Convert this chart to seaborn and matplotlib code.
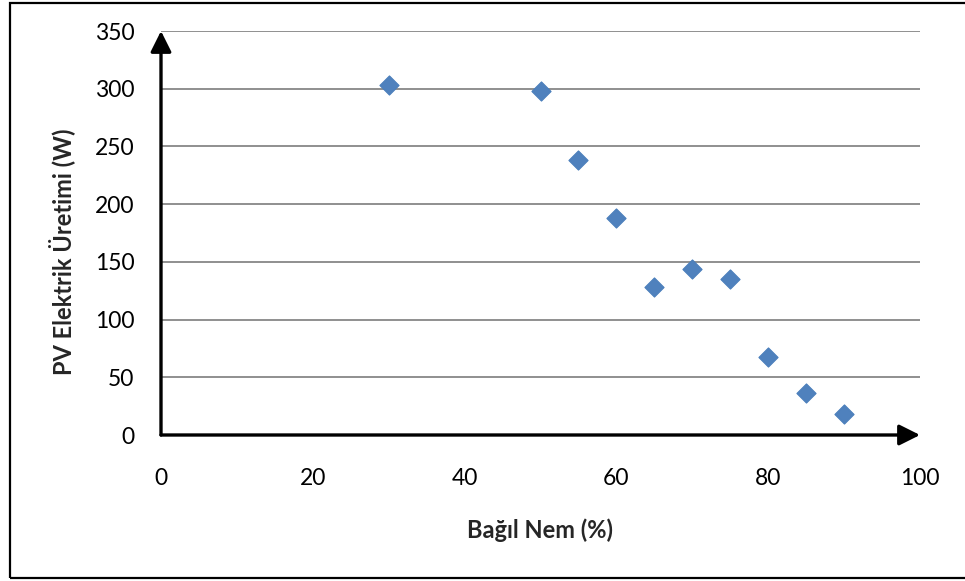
import matplotlib
matplotlib.use("Agg")
import matplotlib.pyplot as plt
from matplotlib.patches import Rectangle
import seaborn as sns
import pandas as pd

# Relative humidity (%) vs. PV electricity output (W)
humidity = [30, 50, 55, 60, 65, 70, 75, 80, 85, 90]
pv_output = [303, 298, 238, 188, 128, 144, 135, 68, 36, 18]
x_ticks = [0, 20, 40, 60, 80, 100]
y_ticks = [0, 50, 100, 150, 200, 250, 300, 350]
x_label = "Bağıl Nem (%)"
y_label = "PV Elektrik Üretimi (W)"

df = pd.DataFrame({"humidity": humidity, "pv": pv_output})

sns.set_theme(style="white")
plt.rcParams["font.family"] = ["Lato", "DejaVu Sans"]

W, H = 965, 581
fig = plt.figure(figsize=(W / 100, H / 100), dpi=100)
fig.patch.set_facecolor("white")

left, right, bottom, top = 161, 920, 435, 31
ax = fig.add_axes([left / W, (H - bottom) / H, (right - left) / W, (bottom - top) / H])

sns.scatterplot(data=df, x="humidity", y="pv", marker="D", s=95,
                color="#4F81BD", edgecolor="#4A7EBB", linewidth=0.8,
                ax=ax, zorder=5, clip_on=False)

ax.set_xlim(0, 100)
ax.set_ylim(0, 350)
ax.set_xticks(x_ticks)
ax.set_yticks(y_ticks)
ax.set_xticklabels([str(v) for v in x_ticks])
ax.set_yticklabels([str(v) for v in y_ticks])

# horizontal gridlines only
ax.grid(False)
for v in y_ticks[1:]:
    ax.axhline(v, color="#878787", lw=1.3, zorder=1)

for s in ax.spines.values():
    s.set_visible(False)

# axes drawn as arrows
arrow = dict(arrowstyle="-|>,head_length=0.9,head_width=0.45", color="black",
             lw=2.4, shrinkA=0, shrinkB=0, mutation_scale=14)
ax.annotate("", xy=(1.0, 0), xytext=(0, 0), xycoords="axes fraction",
            textcoords="axes fraction", arrowprops=arrow, zorder=6,
            annotation_clip=False)
ax.annotate("", xy=(0, 1.0), xytext=(0, 0), xycoords="axes fraction",
            textcoords="axes fraction", arrowprops=arrow, zorder=6,
            annotation_clip=False)

ax.tick_params(axis="x", length=0, pad=24, labelsize=16.5, colors="black")
ax.tick_params(axis="y", length=0, pad=19, labelsize=16.5, colors="black")

ax.set_xlabel(x_label, fontsize=17, fontweight="bold")
ax.set_ylabel(y_label, fontsize=17, fontweight="bold")
ax.xaxis.set_label_coords((540 - left) / (right - left), -(530 - bottom) / (bottom - top))
ax.yaxis.set_label_coords(-(left - 62) / (right - left), (bottom - 252) / (bottom - top))
ax.xaxis.label.set_va("center")
ax.yaxis.label.set_va("center")

# outer chart frame
fig.patches.append(Rectangle((9.5 / W, (H - 578) / H), (W + 5 - 9.5) / W, (577 - 1.5) / H,
                             transform=fig.transFigure, fill=False,
                             edgecolor="black", lw=1.6, clip_on=False))

fig.savefig("out.png", dpi=100, facecolor="white")
